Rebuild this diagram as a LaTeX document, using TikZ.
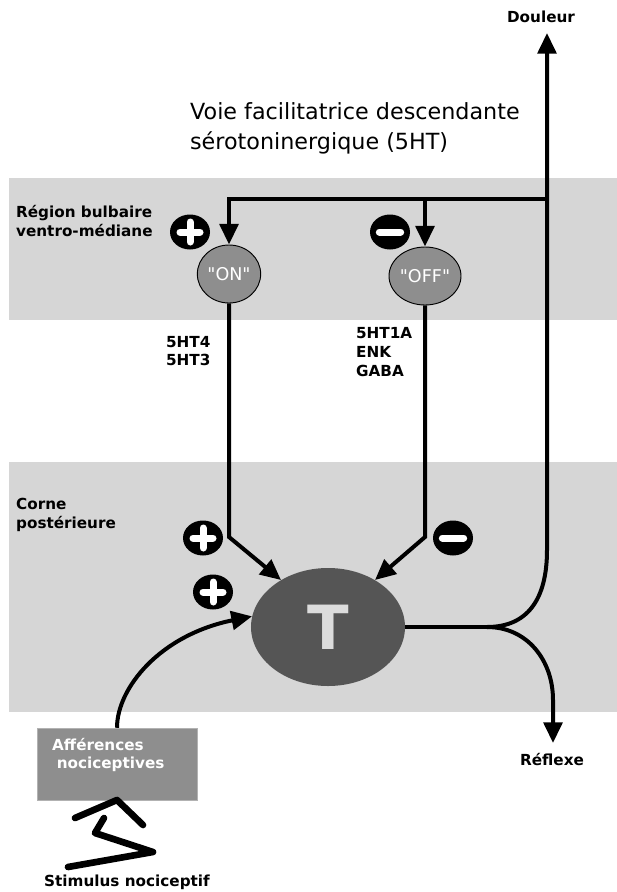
\documentclass[tikz,border=0pt]{standalone}
\usepackage{fontspec}
\setmainfont{DejaVu Sans}
\newfontfamily\relayfont{DejaVu Sans}
\usetikzlibrary{arrows.meta,shapes.geometric}

\definecolor{bandgray}{HTML}{D6D6D6}
\definecolor{relaygray}{HTML}{8E8E8E}
\definecolor{cellgray}{HTML}{555555}
\definecolor{lettergray}{HTML}{DCDCDC}

\tikzset{
  band/.style={fill=bandgray, draw=none},
  fibre/.style={draw=black, line width=0.12cm},
  fibrearrow/.style={fibre, -{Triangle[length=0.62cm, width=0.56cm]}},
  relay/.style={ellipse, draw=black, line width=0.8pt, fill=relaygray, text=white,
    inner sep=0pt, font=\relayfont\fontsize{15}{15}\selectfont},
  sign/.style={ellipse, fill=black, minimum width=1.2cm, minimum height=1.05cm, inner sep=0pt},
  signbar/.style={white, line width=0.21cm, line cap=round},
  lbl/.style={font=\fontsize{13}{16}\selectfont\bfseries, align=left},
}

\begin{document}
\begin{tikzpicture}[x=0.03cm, y=-0.03cm]
        \useasboundingbox (0,0) rectangle (617,892);

        % Grey regions
        \fill[band] (9,178) rectangle (617,320);
        \fill[band] (9,462) rectangle (617,712);

        % Region labels
        \node[lbl, anchor=west] (bulbe) at (12,221) {Région bulbaire\\ventro-médiane};
        \node[lbl, anchor=west] (corne) at (12,515) {Corne\\postérieure};

        % Descending pathway title
        \node[anchor=west, align=left, font=\fontsize{19}{25.6}\selectfont] (voie) at (186,128)
            {Voie facilitatrice descendante\\sérotoninergique (5HT)};

        % ON and OFF cells
        \node[relay, minimum width=1.9cm, minimum height=1.74cm] (on) at (229,274) {"ON"};
        \node[relay, minimum width=2.16cm, minimum height=1.74cm] (off) at (425,276) {"OFF"};

        % Receptor labels
        \node[lbl, anchor=west] (rec1) at (162,351) {5HT4\\5HT3};
        \node[lbl, anchor=west] (rec2) at (352,352) {5HT1A\\ENK\\GABA};

        % Projection neuron
        \node[ellipse, fill=cellgray, minimum width=4.62cm, minimum height=3.54cm, inner sep=0pt,
            text=lettergray, font=\fontsize{52}{52}\selectfont\bfseries] (T) at (328,627) {T};

        % Afferent fibres
        \node[fill=relaygray, draw=gray!60, minimum width=4.8cm, minimum height=2.16cm] (aff) at (117,764) {};
        \node[lbl, text=white, anchor=west] (afftext) at (48,755) {Afférences\\\hspace*{4pt}nociceptives};

        % Plus and minus signs
        \node[sign] (pon) at (190,232) {};
        \node[sign] (moff) at (390,232) {};
        \node[sign] (pcorne) at (203,538) {};
        \node[sign] (paff) at (213,592) {};
        \node[sign] (mcorne) at (453,538) {};
        \foreach \s in {pon,pcorne,paff}
            \draw[signbar] ([xshift=-0.3cm]\s.center) -- ([xshift=0.3cm]\s.center)
                ([yshift=-0.3cm]\s.center) -- ([yshift=0.3cm]\s.center);
        \foreach \s in {moff,mcorne}
            \draw[signbar] ([xshift=-0.32cm]\s.center) -- ([xshift=0.32cm]\s.center);

        % Output labels
        \node[lbl] (douleur) at (541,17) {Douleur};
        \node[lbl] (reflexe) at (552,760) {Réflexe};
        \node[lbl] (stimulus) at (127,882) {Stimulus nociceptif};

        % Connections
        \coordinate (split) at (487,627);
        \coordinate (dtip) at (547,33);
        \coordinate (rtip) at (553,743);
        \coordinate (br) at (547,199);
        \coordinate (onbend) at (229,537);
        \coordinate (offbend) at (425,537);

        \draw[fibre] (T.east) -- (split);
        \draw[fibrearrow] (split) .. controls (527,627) and (547,600) .. (547,550) -- (dtip);
        \draw[fibrearrow] (split) .. controls (527,627) and (553,660) .. (553,700) -- (rtip);

        \draw[fibrearrow] (br) -- (br -| on.north) -- (on.north);
        \draw[fibrearrow] (br -| off.north) -- (off.north);

        \draw[fibrearrow] (on.south) -- (onbend) -- (T.135);
        \draw[fibrearrow] (off.south) -- (offbend) -- (T.45);

        \draw[fibrearrow] (aff.north) .. controls (117,688) and (160,635) .. (T.172);

        % Stimulus zigzag
        \draw[line width=0.2cm, line cap=round, line join=round] (68,867) -- (153,852) -- (95,833) -- (104,818);
        \draw[line width=0.2cm, line cap=round, line join=round] (75,818) -- (117,800) -- (143,825);

    \end{tikzpicture}
\end{document}
